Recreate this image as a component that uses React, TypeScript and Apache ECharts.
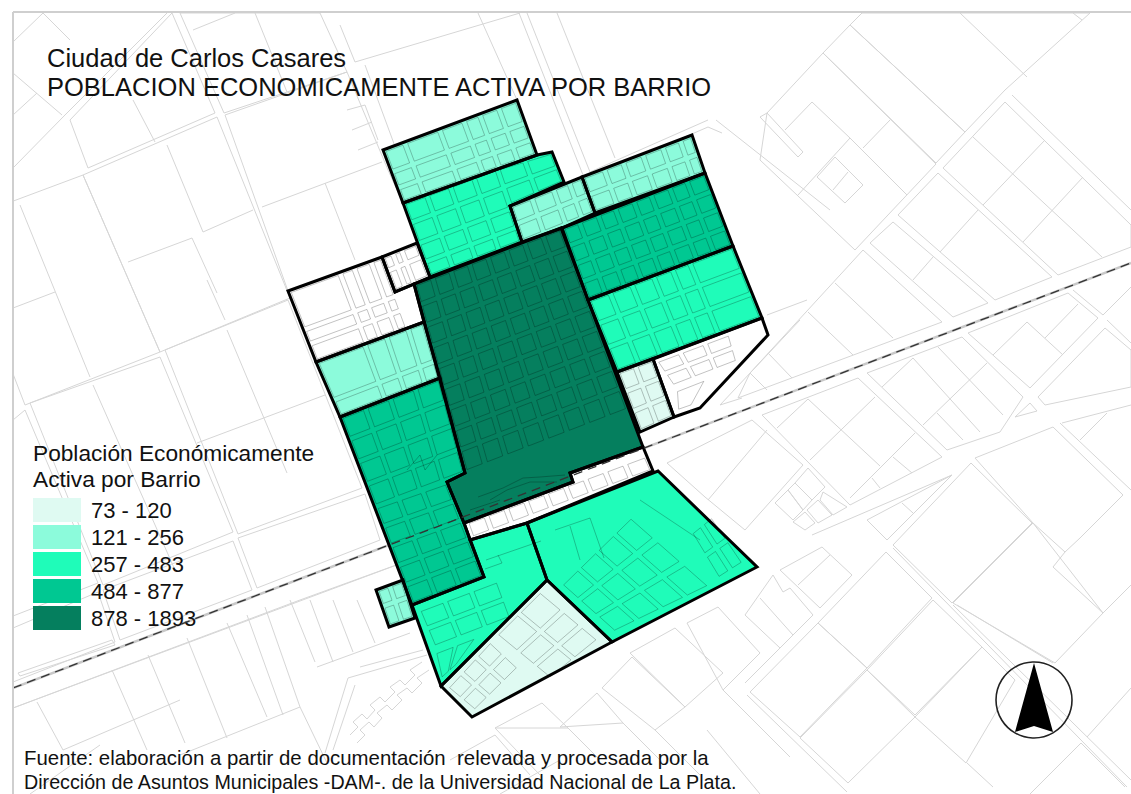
import React, { useEffect, useRef } from "react";
import * as echarts from "echarts";

type P = number[];

const titleLines = ["Ciudad de Carlos Casares", "POBLACION ECONOMICAMENTE ACTIVA POR BARRIO"];
const legendTitle = ["Población Económicamente", "Activa por Barrio"];
const sourceLines = [
  "Fuente: elaboración a partir de documentación  relevada y procesada por la",
  "Dirección de Asuntos Municipales -DAM-. de la Universidad Nacional de La Plata.",
];
const classLabels = ["73 - 120", "121 - 256", "257 - 483", "484 - 877", "878 - 1893"];
const classMin = [73, 121, 257, 484, 878];
const classMax = [120, 256, 483, 877, 1893];
const classColors = ["#dffaf2", "#8cfbdb", "#1ffcb9", "#00c892", "#057f5e"];

// Barrios: estimated values (null = no data, drawn white)
const barrioValues: (number | null)[] = [180, 390, 210, 230, 640, 420, 1893, null, null, 200, 790, 130, 450, null, 483, 100, 85, null];
const barrioShapes: P[][] = [
  [[383,150],[517,100],[537,155],[403,203]],
  [[403,203],[537,155],[552,152],[564,182],[510,206],[522,242],[430,277]],
  [[510,206],[582,177],[595,213],[562,228],[522,242]],
  [[582,177],[692,135],[705,173],[595,213]],
  [[562,228],[705,173],[733,246],[588,300]],
  [[588,300],[733,246],[762,318],[617,372]],
  [[414,284],[561,228],[643,447],[570,473],[573,482],[464,523],[447,482],[465,473]],
  [[382,257],[417,243],[430,277],[414,284],[395,292]],
  [[288,291],[382,257],[395,292],[414,284],[424,322],[316,362]],
  [[316,362],[424,322],[440,378],[340,417]],
  [[340,417],[440,378],[465,473],[447,482],[464,523],[484,577],[412,605]],
  [[376,590],[403,580],[415,618],[389,627]],
  [[470,540],[527,523],[547,580],[441,686],[412,605],[484,577]],
  [[464,523],[573,482],[570,473],[643,447],[653,471],[527,523],[470,540]],
  [[527,523],[658,471],[757,567],[612,642],[547,580]],
  [[547,580],[612,642],[472,717],[441,686]],
  [[617,372],[653,359],[674,417],[640,432]],
  [[653,359],[762,318],[768,335],[700,408],[674,417]],
];

// Street grids inside the barrios: corners and street positions along each side
const gridCorners: P[][] = [
  [[383,150],[517,100],[537,155],[403,203]],
  [[403,203],[497,168],[522,242],[430,277]],
  [[497,168],[552,152],[564,182],[510,206]],
  [[510,206],[582,177],[595,213],[522,242]],
  [[582,177],[692,135],[705,173],[595,213]],
  [[562,228],[705,173],[733,246],[588,300]],
  [[588,300],[733,246],[762,318],[617,372]],
  [[414,284],[561,228],[629,410],[465,473]],
  [[382,257],[417,243],[430,277],[395,292]],
  [[288,291],[382,257],[408,328],[316,362]],
  [[316,362],[424,322],[440,378],[340,417]],
  [[340,417],[440,378],[465,473],[375,507]],
  [[375,507],[447,482],[484,577],[412,605]],
  [[376,590],[403,580],[415,618],[389,627]],
  [[617,372],[653,359],[674,417],[640,432]],
  [[655,361],[730,333],[738,362],[673,387]],
  [[675,390],[708,377],[690,408],[678,412]],
  [[466,522],[646,455],[653,471],[472,539]],
  [[418,610],[498,580],[512,618],[434,648]],
  [[434,652],[478,636],[455,666],[442,680]],
  [[560,585],[630,515],[712,587],[614,633]],
  [[690,533],[712,515],[745,563],[718,580]],
  [[446,688],[490,640],[520,668],[475,712]],
  [[495,635],[540,590],[600,640],[550,680]],
];
const gridU: number[][] = [
  [.16,.42,.6,.72,.86],[.25,.5,.75],[.5],[.3,.6,.82],[.2,.37,.55,.73,.89],
  [.12,.25,.37,.5,.62,.75,.87],[.15,.3,.45,.58,.7],[.125,.25,.375,.5,.625,.75,.875],
  [.3,.55],[.55,.7,.88],[.45,.65,.85],[.25,.5,.75],[.33,.66],[.5],[.5],[.33,.66],[],
  [.11,.22,.33,.44,.55,.66,.77,.88],[.33,.66],[.5],[.25,.5,.75],[.5],[.33,.66],[.5],
];
const gridV: number[][] = [
  [.42,.72],[.27,.55,.8],[.5],[.5],[.5],
  [.25,.5,.75],[.33,.66],[.11,.22,.33,.44,.55,.66,.77,.88],
  [.4],[.55,.75],[.7],[.25,.5,.75],[.2,.4,.6,.8],[.45],[.33,.66],[.5],[],
  [],[.5],[],[.33,.66],[.5],[.5],[.4,.7],
];
const innerLines: P[][] = [
  [[486,560],[541,541]],[[498,555],[502,563],[485,569]],[[555,530],[590,518],[604,558]],[[570,526],[580,560]],
  [[478,497],[503,488],[523,478],[540,477],[565,475]],[[490,500],[507,490],[530,482],[557,482]],[[470,510],[500,500]],
  [[640,500],[700,540]],
  [[407,470],[420,455],[425,470],[437,455]],
];

// Surrounding city blocks
const cityBlocks: P[][] = [
  [[70,120],[172,13],[215,113],[88,168]],[[180,13],[320,13],[347,72],[224,113]],
  [[225,115],[347,72],[388,170],[403,203],[417,243],[288,291]],
  [[0,206],[83,175],[160,352],[25,405],[0,340]],[[83,175],[217,117],[290,298],[160,352]],
  [[13,420],[25,410],[98,583],[13,616]],[[30,403],[160,357],[233,532],[103,585]],[[165,350],[288,300],[362,488],[238,534]],
  [[13,628],[98,592],[115,642],[13,682]],[[103,590],[233,541],[252,590],[120,640]],[[238,538],[365,494],[380,540],[257,588]],
  [[18,673],[112,640],[115,645],[20,676]],
  [[13,708],[300,600],[410,560]],
  [[767,113],[823,53],[936,164],[855,250],[760,160]],[[767,113],[803,152],[798,157],[760,117]],
  [[850,25],[862,13],[1090,13],[1005,90],[965,132]],[[823,53],[850,25],[965,132],[936,163]],
  [[1005,102],[1131,225],[1131,247],[1058,275],[943,168]],
  [[938,173],[898,215],[995,300],[1052,277]],[[893,222],[988,303],[953,317],[870,243]],
  [[863,250],[942,322],[738,398],[750,373]],
  [[762,415],[858,378],[942,457],[850,505]],[[867,373],[962,337],[1023,397],[1000,432],[947,450]],
  [[968,333],[1068,293],[1098,318],[1030,388]],[[1038,397],[1105,328],[1131,350],[1131,387],[1045,405]],
  [[1015,417],[1030,403],[1037,411]],
  [[667,463],[752,420],[803,465],[745,530],[705,497]],
  [[808,468],[825,487],[812,500],[795,483]],[[788,490],[795,483],[812,500],[803,510]],[[775,503],[788,490],[803,510],[793,520]],
  [[823,492],[847,507],[833,515],[820,500]],[[807,510],[818,500],[832,515],[818,523]],[[793,522],[805,512],[815,523],[805,530]],
  [[867,520],[952,475],[887,540]],[[971,463],[1032,523],[952,603],[893,545]],
  [[886,552],[932,598],[867,668],[818,623]],[[750,692],[818,623],[867,668],[800,737]],
  [[933,600],[982,647],[915,715],[867,670]],[[800,738],[867,670],[915,717],[848,783]],
  [[915,717],[982,647],[1015,680],[966,763]],[[953,603],[1033,523],[1103,613],[1055,663]],
  [[780,570],[822,547],[852,575],[820,608]],[[745,615],[773,575],[783,592],[790,588],[813,615],[780,648]],
  [[495,728],[542,703],[568,728]],[[560,727],[597,693],[623,723]],[[602,688],[632,657],[685,707],[655,730]],
  [[630,653],[675,628],[723,673],[685,707]],[[687,623],[718,607],[760,653],[723,690]],
];
const cityLines: P[][] = [
  [[13,42],[43,13]],[[13,73],[62,115]],[[13,115],[37,93]],[[13,168],[65,115],[167,13]],[[43,13],[70,40]],
  [[133,100],[155,142]],[[255,13],[287,92]],[[193,30],[235,13]],[[1073,13],[1082,20]],[[960,13],[1027,77]],[[1012,95],[1131,210]],
  [[340,25],[355,62],[520,13]],[[365,65],[400,160]],[[519,13],[583,175]],[[527,13],[590,172]],[[557,13],[615,158]],[[478,13],[517,100]],
  [[590,172],[708,120]],[[590,178],[708,127],[722,133]],[[716,120],[830,210]],
  [[347,110],[365,105],[378,140]],[[352,130],[372,122]],[[358,150],[378,142]],
  [[20,205],[90,377]],[[13,308],[55,292]],[[167,145],[203,232],[253,210]],[[128,262],[192,238],[217,293]],[[207,280],[225,320]],
  [[262,207],[382,162]],[[325,183],[355,260]],[[93,385],[175,570]],[[227,330],[287,473]],[[197,443],[325,395]],
  [[37,702],[63,750]],[[112,670],[147,750]],[[148,655],[185,743]],[[187,638],[227,738]],[[227,623],[267,717]],[[247,615],[283,715]],[[265,607],[300,707]],
  [[290,600],[315,662]],[[333,662],[310,600]],[[353,652],[333,600]],[[375,643],[357,600]],[[317,667],[410,633]],[[180,755],[300,707],[327,763]],
  [[348,678],[427,655]],[[348,678],[325,753]],[[355,685],[333,750]],[[360,667],[423,650]],[[63,750],[180,700]],[[30,794],[100,745]],
  [[350,735],[358,727],[353,722],[362,714],[367,719],[375,710],[370,705],[380,697],[385,702],[395,692],[390,687],[400,680],[405,685],[415,675],[410,670],[422,662]],
  [[357,743],[365,735],[360,730],[369,722],[374,727],[382,718],[377,713],[387,705],[392,710],[402,700],[397,695],[407,688],[412,693],[422,683],[417,678],[429,670]],
  [[785,130],[812,102],[850,138],[798,195]],[[863,148],[890,120]],[[850,138],[907,195]],[[817,177],[835,157],[863,185],[845,203],[817,177]],[[833,190],[848,172]],
  [[973,137],[1102,257]],[[1045,140],[983,205]],[[1083,177],[1023,242]],[[978,210],[940,252]],[[933,257],[913,280]],
  [[808,312],[853,355]],[[835,283],[893,338]],[[768,353],[792,378]],[[750,373],[767,390]],
  [[777,428],[808,399],[880,466]],[[810,460],[875,397]],[[850,498],[915,433]],[[893,457],[912,473]],[[872,478],[880,488]],
  [[882,387],[913,358],[980,432]],[[938,347],[1003,415]],[[923,425],[987,363]],[[937,413],[963,440]],
  [[993,355],[1027,322],[1063,355]],[[1045,338],[1078,304]],[[1073,290],[1103,315],[1131,287]],[[1107,320],[1131,343]],
  [[720,405],[800,320]],[[720,405],[742,398]],[[767,315],[807,300]],[[708,500],[767,430]],
  [[812,535],[952,475]],[[975,458],[1053,427]],[[1062,423],[1131,405]],[[902,503],[913,513]],
  [[975,458],[1033,523],[1065,552],[1080,538],[1123,495],[1053,427]],[[1053,567],[1103,613],[1131,585]],[[1053,567],[1065,552]],
  [[1060,423],[1131,490]],[[1080,440],[1107,413]],[[953,605],[1131,780]],[[893,548],[1127,787]],
  [[1087,737],[1131,688]],[[967,763],[993,787]],[[1030,794],[1081,743],[1125,787]],[[747,695],[847,792]],
  [[798,585],[830,555]],[[760,598],[793,635]],[[780,648],[745,683]],[[957,605],[1053,663]],
  [[707,730],[760,794]],[[655,730],[700,775]],[[723,690],[790,757]],[[568,728],[600,760]],[[623,723],[660,760]],[[495,728],[540,775]],
  [[450,760],[495,735],[530,775]],[[500,794],[560,760]],
];
const railPath: P[] = [[13,688],[1131,263]];
const compassCentre: P = [1034,700];
const compassNeedle: P[] = [[1034,663],[1015,732],[1034,726],[1053,732]];

function gridCells(c: P[], us: number[], vs: number[], gap = 2.5): P[][] {
  const lenU = Math.hypot(c[1][0] - c[0][0], c[1][1] - c[0][1]);
  const lenV = Math.hypot(c[3][0] - c[0][0], c[3][1] - c[0][1]);
  const U = [0, ...us, 1];
  const V = [0, ...vs, 1];
  const at = (u: number, v: number): P => [0, 1].map((k) =>
    c[0][k] * (1 - u) * (1 - v) + c[1][k] * u * (1 - v) + c[2][k] * u * v + c[3][k] * (1 - u) * v);
  const out: P[][] = [];
  for (let i = 0; i < U.length - 1; i++) for (let j = 0; j < V.length - 1; j++) {
    const u0 = U[i] + gap / lenU, u1 = U[i + 1] - gap / lenU, v0 = V[j] + gap / lenV, v1 = V[j + 1] - gap / lenV;
    out.push([at(u0, v0), at(u1, v0), at(u1, v1), at(u0, v1), at(u0, v0)]);
  }
  return out;
}
const innerBlocks: P[][] = [...gridCorners.flatMap((c, i) => gridCells(c, gridU[i], gridV[i])), ...innerLines];

function shapeSeries(shapes: P[][], closed: boolean, style: any, z: number) {
  return {
    type: "custom", z, silent: true, clip: true, coordinateSystem: "cartesian2d",
    data: shapes.map((_, i) => [i]),
    renderItem: (params: any, api: any) => ({
      type: closed ? "polygon" : "polyline",
      shape: { points: shapes[params.dataIndex].map((p) => api.coord(p)) },
      style: { fill: "none", ...style },
    }),
  };
}

export default function App() {
  const ref = useRef<HTMLDivElement>(null);
  useEffect(() => {
    document.body.style.margin = "0";
    const chart = echarts.init(ref.current!, undefined, { renderer: "svg" });
    const text = (t: string, x: number, y: number, size: number) => ({
      type: "text", x, y, z: 50, silent: true,
      style: { text: t, fill: "#111", font: `${size}px "Liberation Sans", Arial, sans-serif`, textVerticalAlign: "middle" },
    });
    chart.setOption({
      animation: false,
      backgroundColor: "#fff",
      grid: { left: 13, top: 12, right: 0, bottom: 0 },
      xAxis: { type: "value", min: 13, max: 1131, show: false },
      yAxis: { type: "value", min: 12, max: 794, inverse: true, show: false },
      visualMap: {
        type: "piecewise", seriesIndex: 2, dimension: 1, left: 18, top: 483, orient: "vertical",
        itemWidth: 48, itemHeight: 24, itemGap: 3, textGap: 10, align: "left", selectedMode: false, hoverLink: false,
        itemSymbol: "rect", inverse: true, outOfRange: { color: "#fff" },
        textStyle: { color: "#111", fontSize: 22, fontFamily: '"Liberation Sans", Arial, sans-serif' },
        pieces: classLabels.map((label, i) => ({ min: classMin[i], max: classMax[i], label, color: classColors[i] })),
      },
      series: [
        shapeSeries(cityBlocks, true, { stroke: "#d6d6d6", lineWidth: 1 }, 1),
        shapeSeries(cityLines, false, { stroke: "#d6d6d6", lineWidth: 1 }, 1),
        {
          type: "custom", z: 2, silent: true, coordinateSystem: "cartesian2d",
          data: barrioValues.map((v, i) => [i, v === null ? NaN : v]),
          renderItem: (params: any, api: any) => ({
            type: "polygon",
            shape: { points: barrioShapes[params.dataIndex].map((p) => api.coord(p)) },
            style: { fill: isNaN(api.value(1)) ? "#fff" : api.visual("color"), stroke: "none" },
          }),
        },
        shapeSeries(innerBlocks, false, { stroke: "rgba(0,0,0,0.24)", lineWidth: 1 }, 3),
        shapeSeries(barrioShapes, true, { stroke: "#000", lineWidth: 3, lineJoin: "miter" }, 4),
        shapeSeries([railPath], false, { stroke: "#c8c8c8", lineWidth: 2.5 }, 1),
        shapeSeries([railPath], false, { stroke: "#333", lineWidth: 1.3, lineDash: [9, 6] }, 5),
      ],
      graphic: [
        { type: "line", z: 40, silent: true, shape: { x1: 13, y1: 12, x2: 1131, y2: 12 }, style: { stroke: "#cfcfcf", lineWidth: 2 } },
        { type: "line", z: 40, silent: true, shape: { x1: 13, y1: 12, x2: 13, y2: 794 }, style: { stroke: "#cfcfcf", lineWidth: 2 } },
        text(titleLines[0], 47, 58, 25.5),
        text(titleLines[1], 47, 87, 25.5),
        text(legendTitle[0], 33, 453, 22.7),
        text(legendTitle[1], 33, 479, 22.7),
        text(sourceLines[0], 24, 758, 20.4),
        text(sourceLines[1], 24, 782, 19.7),
        { type: "circle", z: 40, silent: true, shape: { cx: compassCentre[0], cy: compassCentre[1], r: 38 }, style: { fill: "none", stroke: "#222", lineWidth: 1.6 } },
        { type: "polygon", z: 41, silent: true, shape: { points: compassNeedle }, style: { fill: "#000" } },
      ],
    });
    return () => chart.dispose();
  }, []);
  return <div ref={ref} style={{ width: 1131, height: 794 }} />;
}
